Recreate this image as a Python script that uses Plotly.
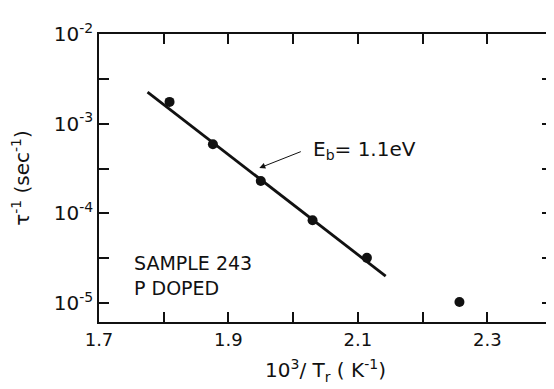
import plotly.graph_objects as go

# data
x_pts = [1.809, 1.876, 1.950, 2.030, 2.114, 2.257]
y_pts = [1.75e-3, 5.9e-4, 2.3e-4, 8.4e-5, 3.2e-5, 1.03e-5]
fit_x = [1.775, 2.143]
fit_y = [2.25e-3, 2.0e-5]

x_tickvals = [1.7, 1.8, 1.9, 2.0, 2.1, 2.2, 2.3]
x_ticktext = ["1.7", "", "1.9", "", "2.1", "", "2.3"]
y_tickvals = [1e-5, 10**-4.5, 1e-4, 10**-3.5, 1e-3, 10**-2.5, 1e-2]
y_ticktext = ["10<sup>-5</sup>", "", "10<sup>-4</sup>", "", "10<sup>-3</sup>", "", "10<sup>-2</sup>"]

ink = "#111111"
font = "DejaVu Sans"

fig = go.Figure()
fig.add_trace(go.Scatter(x=fit_x, y=fit_y, mode="lines",
                         line=dict(color=ink, width=2.8), showlegend=False))
fig.add_trace(go.Scatter(x=x_pts, y=y_pts, mode="markers",
                         marker=dict(color=ink, size=10), showlegend=False))

axis_common = dict(showgrid=False, zeroline=False, showline=True, linecolor=ink,
                   linewidth=1.5, mirror="ticks", ticks="inside", ticklen=10,
                   tickwidth=1.5, tickcolor=ink)

fig.update_xaxes(range=[1.7, 2.4], tickvals=x_tickvals, ticktext=x_ticktext,
                 tickfont=dict(family=font, size=18, color=ink),
                 ticklabelstandoff=1,
                 title=dict(text="10<sup>3</sup>/ T<sub>r</sub> ( K<sup>-1</sup>)",
                            font=dict(family=font, size=20, color=ink), standoff=14),
                 **axis_common)
fig.update_yaxes(type="log", range=[-5.21, -2], tickvals=y_tickvals, ticktext=y_ticktext,
                 tickfont=dict(family=font, size=20, color=ink),
                 title=dict(text="τ<sup>-1</sup> (sec<sup>-1</sup>)",
                            font=dict(family=font, size=20, color=ink), standoff=22),
                 **axis_common)

# arrow
fig.add_annotation(x=1.9477, y=-3.494, text="", showarrow=True, ax=43, ay=-17,
                   arrowhead=2, arrowsize=1.2, arrowwidth=1, arrowcolor=ink)
fig.add_annotation(x=2.0277, y=-3.293, text="E<sub>b</sub>= 1.1eV", showarrow=False,
                   xanchor="left", yanchor="middle",
                   font=dict(family=font, size=20, color=ink))
fig.add_annotation(x=1.7508, y=-4.69, text="SAMPLE 243<br>P DOPED", showarrow=False,
                   xanchor="left", yanchor="middle", align="left",
                   font=dict(family=font, size=19, color=ink))

# page body has an 8px margin, so the figure is sized to fit inside the window
fig.update_layout(width=546, height=381, margin=dict(l=91, r=0, t=26, b=67),
                  paper_bgcolor="white", plot_bgcolor="white")

fig.write_html("out.html")
